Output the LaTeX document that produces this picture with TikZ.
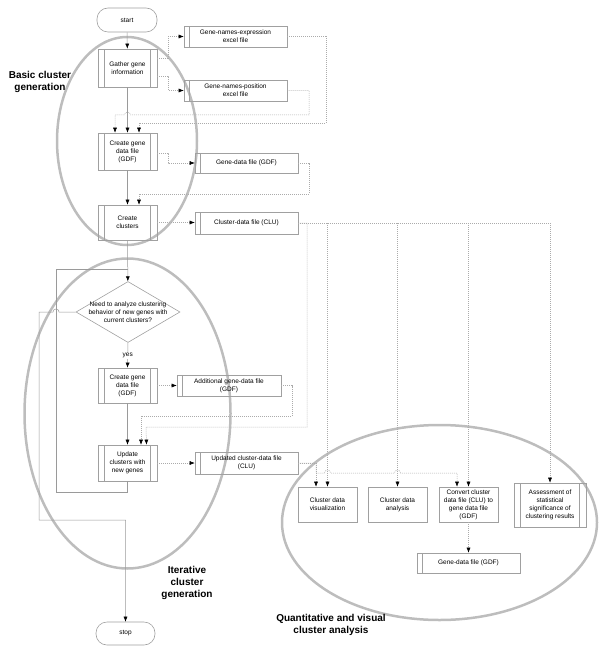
\documentclass[tikz,border=0pt]{standalone}
\usepackage{fontspec}
\setmainfont{Liberation Sans}
\usetikzlibrary{arrows.meta,shapes.geometric}
\definecolor{boxgray}{HTML}{A0A0A0}
\definecolor{linegray}{HTML}{9A9A9A}
\definecolor{dotgray}{HTML}{ABABAB}
\definecolor{ellgray}{HTML}{BDBDBD}
\begin{document}
\begin{tikzpicture}[x=1pt,y=-1pt,
  txt/.style={font=\fontsize{6.5}{8}\selectfont, align=center},
  box/.style={draw=boxgray, line width=0.6pt, rectangle, inner sep=0pt, txt},
  proc/.style={box, path picture={
     \draw[boxgray,line width=0.6pt] ([xshift=6.5pt]path picture bounding box.north west) -- ([xshift=6.5pt]path picture bounding box.south west);
     \draw[boxgray,line width=0.6pt] ([xshift=-6.5pt]path picture bounding box.north east) -- ([xshift=-6.5pt]path picture bounding box.south east);}},
  filebox/.style={box, path picture={
     \draw[boxgray,line width=0.6pt] ([xshift=5pt]path picture bounding box.north west) -- ([xshift=5pt]path picture bounding box.south west);}},
  term/.style={box, rounded corners=11pt},
  sol/.style={draw=linegray, line width=0.5pt},
  dotc/.style={draw=dotgray, line width=0.5pt, dash pattern=on 1pt off 1pt},
  arr/.style={-{Latex[length=5pt,width=4pt,color=black]}},
  ell/.style={draw=ellgray, line width=2.5pt},
  big/.style={font=\bfseries\fontsize{10}{12}\selectfont, align=center}
]
\useasboundingbox (0,0) rectangle (600,660);

% ellipses
\draw[ell] (127,141) ellipse [x radius=70pt, y radius=104pt];
\draw[ell] (127.5,413.5) ellipse [x radius=103pt, y radius=155pt];
\draw[ell] (439.5,522.5) ellipse [x radius=157.5pt, y radius=97.5pt];

% nodes
\node[term, minimum width=60pt, minimum height=24pt] (start) at (127,20) {start};
\node[proc, minimum width=59pt, minimum height=38pt] (gather) at (127.5,68) {Gather gene\\information};
\node[filebox, minimum width=103pt, minimum height=21pt] (gne) at (235.5,36.5) {Gene-names-expression\\excel file};
\node[filebox, minimum width=103pt, minimum height=21pt] (gnp) at (235.5,90.5) {Gene-names-position\\excel file};
\node[proc, minimum width=59pt, minimum height=37pt] (cgd) at (127.5,151.5) {Create gene\\data file\\(GDF)};
\node[filebox, minimum width=103pt, minimum height=20pt] (gdf) at (246.5,163) {Gene-data file (GDF)};
\node[proc, minimum width=59pt, minimum height=35pt] (cc) at (127.5,222.5) {Create\\clusters};
\node[filebox, minimum width=103pt, minimum height=22pt] (clu) at (246.5,223) {Cluster-data file (CLU)};
\node[draw=boxgray, line width=0.6pt, diamond, aspect=1.7, minimum width=104pt, minimum height=61pt, inner sep=0pt] (dia) at (128,312) {};
\node[txt] (diat) at (128,312) {Need to analyze clustering\\behavior of new genes with\\current clusters?};
\node[proc, minimum width=59pt, minimum height=35pt] (cgd2) at (127.5,385.5) {Create gene\\data file\\(GDF)};
\node[filebox, minimum width=104pt, minimum height=21pt] (agdf) at (229,385.5) {Additional gene-data file\\(GDF)};
\node[proc, minimum width=59pt, minimum height=36pt] (uc) at (127.5,463) {Update\\clusters with\\new genes};
\node[filebox, minimum width=103pt, minimum height=22pt] (uclu) at (246.5,463) {Updated cluster-data file\\(CLU)};
\node[box, minimum width=59pt, minimum height=35pt] (vis) at (327.5,504.5) {Cluster data\\visualization};
\node[box, minimum width=59pt, minimum height=35pt] (ana) at (397.5,504.5) {Cluster data\\analysis};
\node[box, minimum width=59pt, minimum height=35pt] (conv) at (468.5,504.5) {Convert cluster\\data file (CLU) to\\gene data file\\(GDF)};
\node[proc, minimum width=72pt, minimum height=44pt] (ass) at (550,505) {Assessment of\\statistical\\significance of\\clustering results};
\node[filebox, minimum width=103pt, minimum height=20pt] (gdf3) at (468.5,563) {Gene-data file (GDF)};
\node[term, minimum width=59pt, minimum height=23pt] (stop) at (125.5,633.5) {stop};

% labels
\node[big] (lb1) at (40,82) {Basic cluster\\generation};
\node[big] (lb2) at (187,583) {Iterative\\cluster\\generation};
\node[big] (lb3) at (331,625) {Quantitative and visual\\cluster analysis};

% connectors: basic
\draw[sol,arr] (start) -- (gather);
\draw[dotc,arr] ([yshift=10pt]gather.east) -- ++(11,0) |- (gne.west);
\draw[dotc,arr] ([yshift=-8pt]gather.east) -- ++(11,0) |- (gnp.west);
\draw[sol,arr] (gather) -- (cgd);
\draw[dotc,arr] (gnp.east) -| (309,115) -- (130.5,115) .. controls (130.5,111) and (124.5,111) .. (124.5,115) -- (115,115) -- ([xshift=-12.5pt]cgd.north);
\draw[dotc,arr] (gne.east) -| (326,123) -- (139,123) -- ([xshift=11.5pt]cgd.north);
\draw[dotc,arr] ([yshift=-1.5pt]cgd.east) -- ++(11,0) |- (gdf.west);
\draw[sol,arr] (cgd) -- (cc);
\draw[dotc,arr] (gdf.east) -| (309,194) -- (139,194) -- ([xshift=11.5pt]cc.north);
\draw[dotc,arr] (cc.east) -- (cc.east -| clu.west);

% CLU branches
\draw[dotc,arr] (clu.east) -- (clu.east -| ass.north) -- (ass.north);
\draw[dotc,arr] (clu.east -| vis.north) -- (vis.north);
\draw[dotc,arr] (clu.east -| ana.north) -- (ana.north);
\draw[dotc,arr] (clu.east -| conv.north) -- (conv.north);
\draw[dotc,arr] (clu.east) -| (307,427) -- (146,427) -- ([xshift=19pt]uc.north);

% iterative
\draw[sol,arr] (cc) -- (dia);
\draw[sol] (uc.south) -- (127.5,492) -- (56,492) -- (56,269) -- (127.5,269);
\draw[sol,arr] (dia.west) -- (59,312) .. controls (59,308) and (53,308) .. (53,312) -- (39,312) -- (39,520) -- (125.5,520) -- (stop.north);
\draw[sol,arr] (dia.south) -- node[fill=white, inner sep=1pt, txt] (yes) {yes} (cgd2.north);
\draw[dotc,arr] (cgd2.east) -- (agdf.west);
\draw[sol,arr] (cgd2) -- (uc);
\draw[dotc,arr] (agdf.east) -| (292,416) -- (141,416) -- ([xshift=13.5pt]uc.north);
\draw[dotc,arr] (uc.east) -- (uc.east -| uclu.west);

% updated branches
\draw[dotc,arr] (uclu.east) -| ([xshift=-11.5pt]vis.north);
\draw[dotc,arr] (uclu.east) -| (316,473) -- (324.5,473) .. controls (324.5,469) and (330.5,469) .. (330.5,473) -- (394.5,473) .. controls (394.5,469) and (400.5,469) .. (400.5,473) -- (457,473) -- ([xshift=-11.5pt]conv.north);
\draw[dotc,arr] (conv.south) -- (gdf3.north);
\end{tikzpicture}
\end{document}
